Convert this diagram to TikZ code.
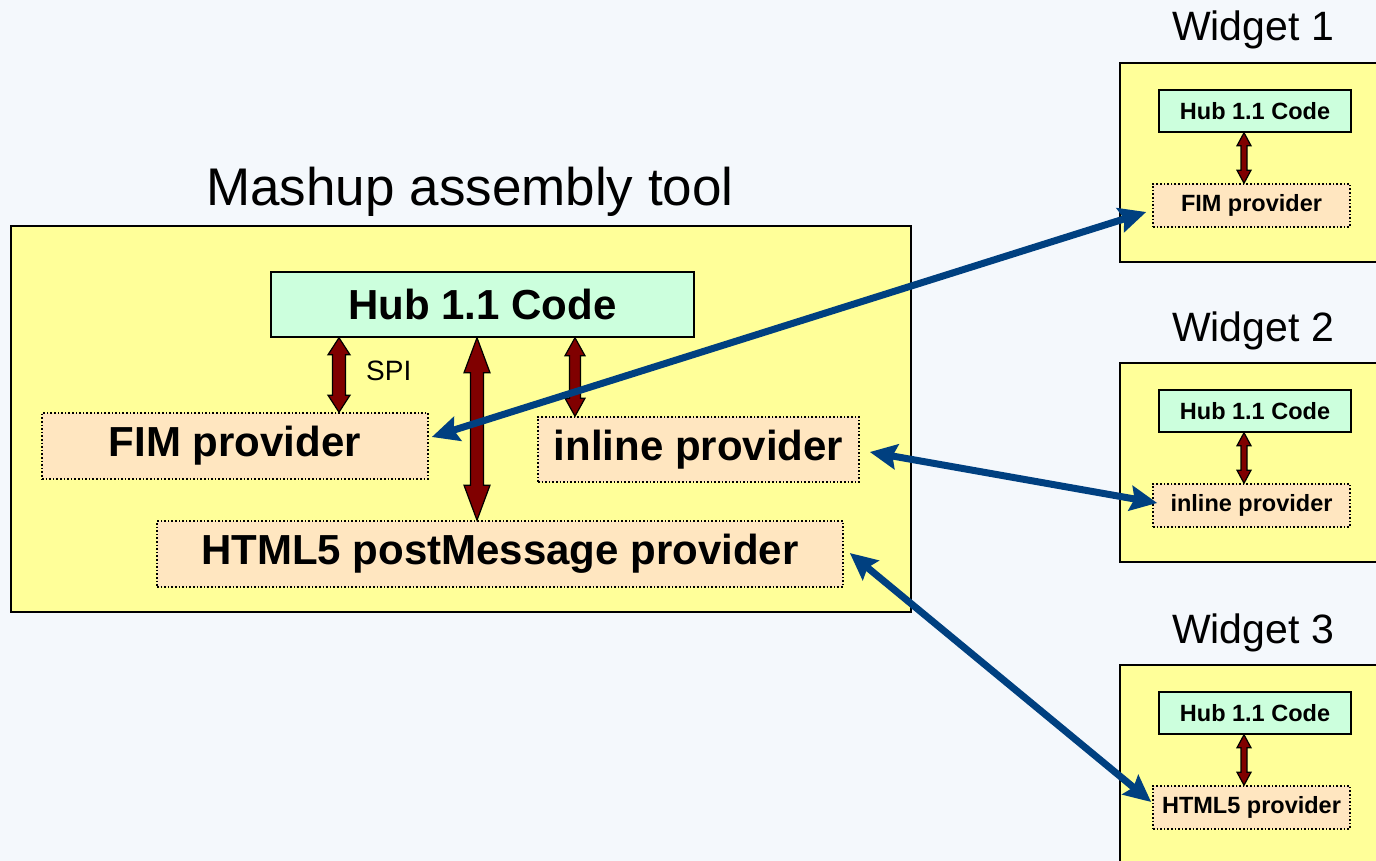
\documentclass[tikz,border=0pt]{standalone}
\usepackage{fontspec}
\setmainfont{Liberation Sans}
\usetikzlibrary{arrows.meta,calc}
\definecolor{bgc}{HTML}{F4F8FC}
\definecolor{yel}{HTML}{FFFF99}
\definecolor{hubg}{HTML}{CCFFDD}
\definecolor{prov}{HTML}{FFE6C0}
\definecolor{dred}{HTML}{800000}
\definecolor{dblue}{HTML}{004080}
\newcommand\redarrow[6]{\path[redarr] let \p1=(#1), \p2=(#2) in
 (#3pt,\y1) -- (#3pt+#5pt,\y1-#6pt) -- (#3pt+#4pt,\y1-#6pt) -- (#3pt+#4pt,\y2+#6pt) -- (#3pt+#5pt,\y2+#6pt) -- (#3pt,\y2) -- (#3pt-#5pt,\y2+#6pt) -- (#3pt-#4pt,\y2+#6pt) -- (#3pt-#4pt,\y1-#6pt) -- (#3pt-#5pt,\y1-#6pt) -- cycle;}
\begin{document}
\begin{tikzpicture}[x=1pt,y=-1pt,
  container/.style={draw=black,line width=1.5pt,fill=yel,inner sep=0pt},
  hubbox/.style={draw=black,line width=1.5pt,fill=hubg,inner sep=0pt},
  provbox/.style={draw=black,line width=1.6pt,dash pattern=on 1.6pt off 2pt,fill=prov,inner sep=0pt},
  bigbold/.style={font=\fontsize{42}{48}\selectfont\bfseries},
  smallbold/.style={font=\fontsize{23.5}{28}\selectfont\bfseries},
  title/.style={font=\fontsize{53}{60}\selectfont,inner sep=0pt,anchor=base},
  wtitle/.style={font=\fontsize{41}{48}\selectfont,inner sep=0pt,anchor=base},
  redarr/.style={draw=black,line width=1.2pt,fill=dred,line join=miter},
  bluearr/.style={draw=dblue,line width=7pt,{Stealth[length=27pt,width=25pt,inset=4pt]}-{Stealth[length=27pt,width=25pt,inset=4pt]}}]
\useasboundingbox (0,0) rectangle (1376,861);
\fill[bgc] (0,0) rectangle (1376,861);
\clip (0,0) rectangle (1376,861);
% main container
\node[container,minimum width=900pt,minimum height=386pt] (main) at (461,419) {};
\node[title] (mtitle) at (470,206) {Mashup assembly tool};
\node[hubbox,bigbold,minimum width=423pt,minimum height=65pt] (hubM) at (482.5,304.5) {Hub 1.1 Code};
\node[provbox,bigbold,minimum width=386pt,minimum height=66pt] (fimM) at (235,446) {FIM provider};
\node[provbox,bigbold,minimum width=321pt,minimum height=65pt] (inlM) at (698.5,449.5) {inline provider};
\node[provbox,bigbold,minimum width=686pt,minimum height=66pt] (htmM) at (500,554) {HTML5 postMessage provider};
\node[font=\fontsize{28}{32}\selectfont,inner sep=0pt,anchor=base west] (spi) at (366,380) {SPI};
\redarrow{hubM.south}{fimM.north}{339}{6.5}{11}{17}
\redarrow{hubM.south}{htmM.north}{477}{6.5}{13}{35}
\redarrow{hubM.south}{inlM.north}{575}{5.5}{10}{18}
% widgets
\foreach \i/\yo/\ptxt in {1/0/FIM provider,2/300/inline provider,3/602/HTML5 provider}{
  \node[wtitle] (wt\i) at (1253,41+\yo) {Widget \i};
  \node[container,minimum width=270pt,minimum height=199pt] (wbox\i) at (1255,162.5+\yo) {};
  \node[hubbox,smallbold,minimum width=192pt,minimum height=42pt] (hubW\i) at (1255,111+\yo) {Hub 1.1 Code};
  \node[provbox,smallbold,minimum width=197pt,minimum height=43pt] (provW\i) at (1251.5,205.5+\yo) {\ptxt};
  \redarrow{hubW\i.south}{provW\i.north}{1244}{3}{7}{13}
}
% blue arrows
\draw[bluearr] ([shift={(3,-9)}]fimM.east) -- ([shift={(-6,6.5)}]provW1.west);
\draw[bluearr] ([shift={(10,2.5)}]inlM.east) -- ([shift={(5,-2.5)}]provW2.west);
\draw[bluearr] ([shift={(6,-1)}]htmM.east) -- ([shift={(-1,-5.5)}]provW3.west);
\end{tikzpicture}
\end{document}
